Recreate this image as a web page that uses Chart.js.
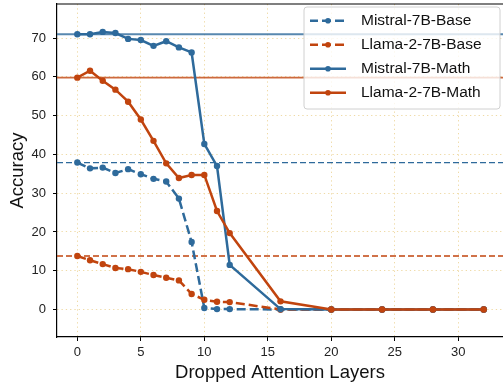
<!DOCTYPE html>
<html>
<head>
<meta charset="utf-8">
<script src="https://cdn.jsdelivr.net/npm/chart.js@4/dist/chart.umd.min.js"></script>
<style>
  html, body { margin: 0; padding: 0; background: #ffffff; }
  canvas { display: block; }
</style>
</head>
<body>
<canvas id="c" width="503" height="382"></canvas>
<script>
// ---- data ----
const layers = [0, 1, 2, 3, 4, 5, 6, 7, 8, 9, 10, 11, 12, 16, 20, 24, 28, 32];
const mistralBase = [37.9, 36.4, 36.6, 35.2, 36.2, 34.9, 33.7, 33.0, 28.6, 17.4, 0.4, 0.1, 0.1, 0, 0, 0, 0, 0];
const llamaBase   = [13.8, 12.7, 11.7, 10.7, 10.4, 9.7, 8.9, 8.2, 7.5, 4.0, 2.5, 2.0, 1.9, 0, 0, 0, 0, 0];
const mistralMath = [71.0, 71.0, 71.6, 71.3, 69.8, 69.5, 68.0, 69.2, 67.6, 66.3, 42.7, 37.0, 11.5, 0.1, 0, 0, 0, 0];
const llamaMath   = [59.8, 61.6, 59.0, 56.7, 53.6, 49.0, 43.5, 37.7, 33.9, 34.7, 34.7, 25.4, 19.7, 2.1, 0, 0, 0, 0];
const seriesNames = ['Mistral-7B-Base', 'Llama-2-7B-Base', 'Mistral-7B-Math', 'Llama-2-7B-Math'];
const xTicks = [0, 5, 10, 15, 20, 25, 30];
const yTicks = [0, 10, 20, 30, 40, 50, 60, 70];
const xTitle = 'Dropped Attention Layers';
const yTitle = 'Accuracy';

// ---- styles ----
const BLUE = '#2e6a9b';
const ORANGE = '#c1440e';
const FONT = "'Liberation Sans', Arial, Helvetica, sans-serif";

function toPts(ys) { return layers.map((x, i) => ({ x: x, y: ys[i] })); }

const seriesDefs = [
  { data: mistralBase, color: BLUE,   dashed: true,  order: 3 },
  { data: llamaBase,   color: ORANGE, dashed: true,  order: 2 },
  { data: mistralMath, color: BLUE,   dashed: false, order: 1 },
  { data: llamaMath,   color: ORANGE, dashed: false, order: 0 }
];

const datasets = seriesDefs.map((s, i) => ({
  label: seriesNames[i],
  data: toPts(s.data),
  borderColor: s.color,
  backgroundColor: s.color,
  borderWidth: 2.5,
  borderDash: s.dashed ? [9, 4] : [],
  pointRadius: 3.2,
  pointBorderWidth: 0,
  pointBackgroundColor: s.color,
  pointHoverRadius: 3.2,
  tension: 0,
  fill: false,
  order: s.order
}));

function hexA(hex, a) {
  const r = parseInt(hex.slice(1, 3), 16), g = parseInt(hex.slice(3, 5), 16), b = parseInt(hex.slice(5, 7), 16);
  return `rgba(${r},${g},${b},${a})`;
}

// reference lines at the layer-0 value of each series
const refLinesPlugin = {
  id: 'refLines',
  beforeDatasetsDraw(chart) {
    const { ctx, chartArea, scales } = chart;
    ctx.save();
    ctx.beginPath();
    ctx.rect(chartArea.left, chartArea.top, chartArea.right - chartArea.left, chartArea.bottom - chartArea.top);
    ctx.clip();
    seriesDefs.forEach(s => {
      const y = scales.y.getPixelForValue(s.data[0]);
      ctx.beginPath();
      if (s.dashed) {
        ctx.setLineDash([6, 3]);
        ctx.lineWidth = 1.3;
        ctx.strokeStyle = s.color;
      } else {
        ctx.setLineDash([]);
        ctx.lineWidth = 1.8;
        ctx.strokeStyle = hexA(s.color, 0.8);
      }
      ctx.moveTo(chartArea.left, y);
      ctx.lineTo(chartArea.right, y);
      ctx.stroke();
    });
    ctx.restore();
  }
};

const frameLegendPlugin = {
  id: 'frameLegend',
  afterDraw(chart) {
    const { ctx, chartArea } = chart;
    ctx.save();
    // top spine
    ctx.strokeStyle = '#000';
    ctx.lineWidth = 1.2;
    ctx.setLineDash([]);
    ctx.beginPath();
    ctx.moveTo(chartArea.left, chartArea.top);
    ctx.lineTo(chartArea.right, chartArea.top);
    ctx.stroke();

    // legend
    const bx = 304, by = 7, bw = 196, bh = 102, r = 3;
    ctx.beginPath();
    ctx.moveTo(bx + r, by);
    ctx.lineTo(bx + bw - r, by);
    ctx.quadraticCurveTo(bx + bw, by, bx + bw, by + r);
    ctx.lineTo(bx + bw, by + bh - r);
    ctx.quadraticCurveTo(bx + bw, by + bh, bx + bw - r, by + bh);
    ctx.lineTo(bx + r, by + bh);
    ctx.quadraticCurveTo(bx, by + bh, bx, by + bh - r);
    ctx.lineTo(bx, by + r);
    ctx.quadraticCurveTo(bx, by, bx + r, by);
    ctx.closePath();
    ctx.fillStyle = 'rgba(255,255,255,0.8)';
    ctx.fill();
    ctx.strokeStyle = '#d0d0d0';
    ctx.lineWidth = 1;
    ctx.stroke();

    seriesDefs.forEach((s, i) => {
      const y = 20.7 + i * 24;
      ctx.beginPath();
      ctx.setLineDash(s.dashed ? [9, 4] : []);
      ctx.lineDashOffset = s.dashed ? 1 : 0;
      ctx.strokeStyle = s.color;
      ctx.lineWidth = 2.5;
      ctx.moveTo(310, y);
      ctx.lineTo(346, y);
      ctx.stroke();
      ctx.setLineDash([]);
      ctx.beginPath();
      ctx.fillStyle = s.color;
      ctx.arc(328, y, 2.8, 0, Math.PI * 2);
      ctx.fill();
      ctx.fillStyle = '#111';
      ctx.font = `15.5px ${FONT}`;
      ctx.textBaseline = 'middle';
      ctx.textAlign = 'left';
      ctx.fillText(seriesNames[i], 361, y + 0.5);
    });
    ctx.restore();
  }
};

const gridColor = '#efdaa6';

new Chart(document.getElementById('c'), {
  type: 'line',
  data: { datasets: datasets },
  options: {
    responsive: false,
    animation: false,
    events: [],
    layout: { autoPadding: false, padding: { top: 4, right: 0, left: 0, bottom: 0 } },
    plugins: { legend: { display: false }, tooltip: { enabled: false } },
    scales: {
      x: {
        type: 'linear',
        min: -1.6,
        max: 33.52,
        afterBuildTicks(scale) { scale.ticks = xTicks.map(v => ({ value: v })); },
        afterFit(scale) { scale.height = 45; scale.paddingLeft = 0; scale.paddingRight = 0; },
        ticks: { color: '#222', font: { size: 13, family: FONT }, padding: 4, maxRotation: 0, autoSkip: false },
        grid: { color: gridColor, lineWidth: 1, drawTicks: true, tickLength: 4, tickColor: '#000', tickWidth: 1, tickBorderDash: [] },
        border: { display: true, color: '#000', width: 1.2, dash: [1.3, 3] },
        title: { display: true, text: xTitle, color: '#111', font: { size: 18.5, family: FONT }, padding: { top: 0, bottom: -2 } }
      },
      y: {
        type: 'linear',
        min: -7.1,
        max: 78.8,
        afterBuildTicks(scale) { scale.ticks = yTicks.map(v => ({ value: v })); },
        afterFit(scale) { scale.width = 57; scale.paddingTop = 0; scale.paddingBottom = 0; },
        ticks: { color: '#222', font: { size: 13, family: FONT }, padding: 7 },
        grid: { color: gridColor, lineWidth: 1, drawTicks: true, tickLength: 4, tickColor: '#000', tickWidth: 1, tickBorderDash: [] },
        border: { display: true, color: '#000', width: 1.2, dash: [1.3, 3] },
        title: { display: true, text: yTitle, color: '#111', font: { size: 18.5, family: FONT }, padding: { top: 7, bottom: 0 } }
      }
    }
  },
  plugins: [refLinesPlugin, frameLegendPlugin]
});
</script>
</body>
</html>
